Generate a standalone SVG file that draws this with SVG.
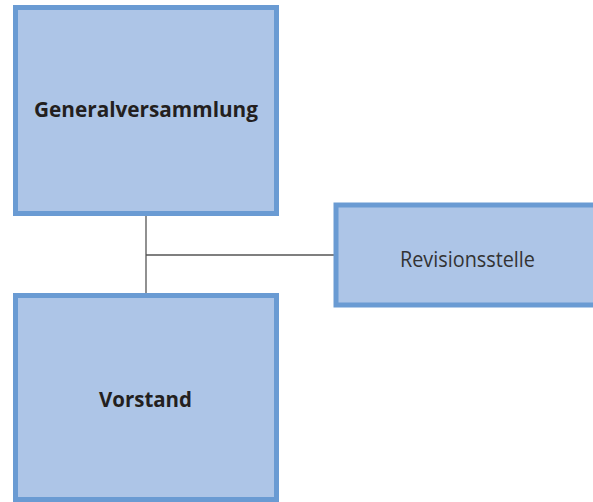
<svg xmlns="http://www.w3.org/2000/svg" width="593" height="502" viewBox="0 0 593 502">
<style>
.box{fill:#adc5e7;stroke:#6a9bd3;stroke-width:5}
.conn{stroke:#555;stroke-width:1.3;fill:none}
.b{font-family:"Open Sans","Liberation Sans",sans-serif;font-weight:bold;font-size:21.5px;fill:#231f20;text-anchor:middle}
.r{font-family:"Open Sans","Liberation Sans",sans-serif;font-size:21.5px;fill:#333;text-anchor:middle}
</style>
<rect width="593" height="502" fill="#fff"/>
<g id="connectors">
<line class="conn" x1="146" y1="216" x2="146" y2="293"/>
<line class="conn" x1="146" y1="255" x2="334" y2="255"/>
</g>
<g id="generalversammlung">
<rect class="box" x="15.5" y="7.5" width="261" height="206"/>
<text class="b" x="146" y="117" textLength="224" lengthAdjust="spacingAndGlyphs">Generalversammlung</text>
</g>
<g id="vorstand">
<rect class="box" x="15.5" y="295.5" width="261" height="204"/>
<text class="b" x="145.5" y="407" textLength="93" lengthAdjust="spacingAndGlyphs">Vorstand</text>
</g>
<g id="revisionsstelle">
<rect class="box" x="336" y="205" width="262" height="100"/>
<text class="r" x="467.5" y="267" textLength="135" lengthAdjust="spacingAndGlyphs">Revisionsstelle</text>
</g>
</svg>
